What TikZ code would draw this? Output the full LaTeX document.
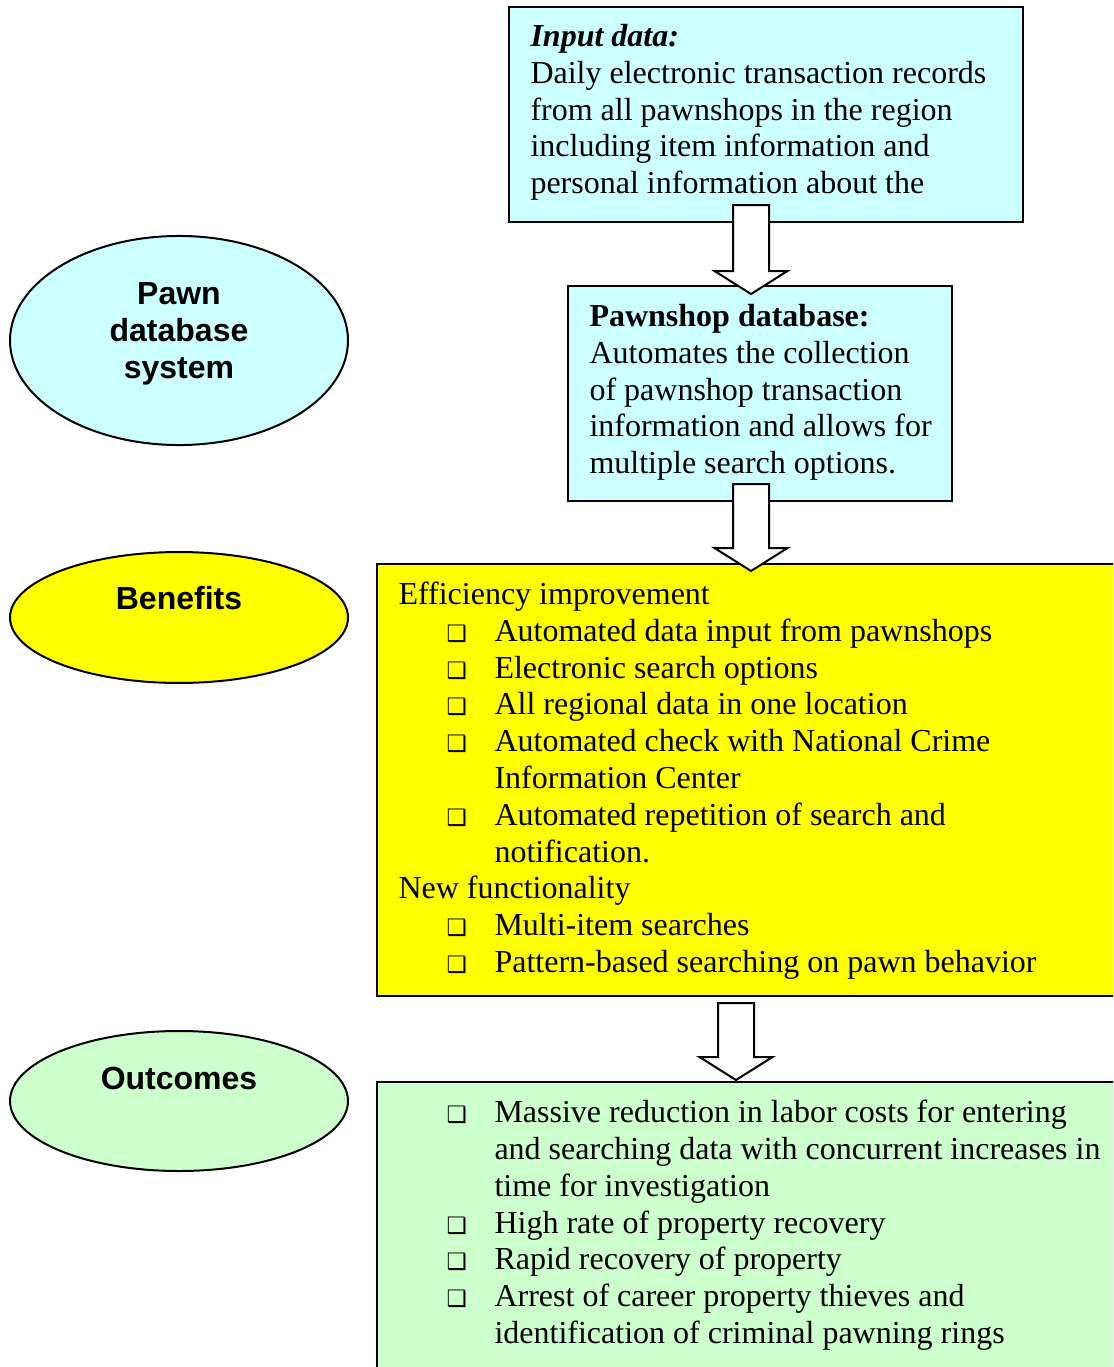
\documentclass[tikz,border=0pt]{standalone}
\usepackage{fontspec}
\setmainfont{Liberation Serif}
\newfontfamily\arialfont{Liberation Sans}
\newfontfamily\bulfont{DejaVu Sans}
\usetikzlibrary{shapes.geometric,fit}
\definecolor{pcyan}{RGB}{204,255,255}
\definecolor{pyellow}{RGB}{255,255,0}
\definecolor{pgreen}{RGB}{204,255,204}
\newcommand\firstln{\rule{0pt}{10pt}}
\newcommand\sqbul{\hspace*{18pt}\makebox[18pt][l]{\bulfont\fontsize{8.5}{9}\selectfont ❑}}
\newcommand\contln{\hspace*{36pt}}

\begin{document}
\begin{tikzpicture}[x=0.375pt, y=-0.375pt,
  box/.style={draw, line width=0.75pt, inner sep=0pt},
  oval/.style={ellipse, draw, line width=0.75pt, inner sep=0pt, minimum width=126.75pt},
  txt/.style={anchor=north west, inner sep=0pt, align=left, font=\fontsize{12}{13.8}\selectfont},
  lbl/.style={inner sep=0pt, align=center, font=\arialfont\bfseries\fontsize{12}{13.8}\selectfont},
  arrowbox/.style={draw, fill=white, line width=0.75pt},
  pics/blockarrow/.style={code={\draw[arrowbox] (-18,0) -- (18,0) -- (18,#1) -- (36.5,#1) -- (0,#1+23) -- (-36.5,#1) -- (-18,#1) -- cycle;}}]
\useasboundingbox (0,0) rectangle (1113,1367);
\clip (0,0) rectangle (1113,1367);

% Left column ovals
\node[oval, fill=pcyan, minimum height=78.4pt] (pawnsys) at (179,340.5) {};
\node[lbl, anchor=north] (pawnlbl) at (179,277.3) {\firstln Pawn\\database\\system};
\node[oval, fill=pyellow, minimum height=49.1pt] (benefits) at (179,617.5) {};
\node[lbl, anchor=base] (benlbl) at (179,609) {Benefits};
\node[oval, fill=pgreen, minimum height=52.5pt] (outcomes) at (179,1101) {};
\node[lbl, anchor=base] (outlbl) at (179,1089) {Outcomes};

% Boxes
\node[box, fill=pcyan, fit={(509,7) (1023,222)}] (input) {};
\node[box, fill=pcyan, fit={(568,286) (952,501)}] (pawndb) {};
\node[box, fill=pyellow, fit={(377,564) (1125,996)}] (benbox) {};
\node[box, fill=pgreen, fit={(377,1082) (1125,1380)}] (outbox) {};

\node[txt] (intext) at (530,19.3) {\firstln\textbf{\textit{Input data:}}\\
  Daily electronic transaction records\\
  from all pawnshops in the region\\
  including item information and\\
  personal information about the};
\node[txt] (dbtext) at (589,299.3) {\firstln\textbf{Pawnshop database:}\\
  Automates the collection\\
  of pawnshop transaction\\
  information and allows for\\
  multiple search options.};
\node[txt] (bentext) at (398,577.3) {\firstln Efficiency improvement\\
  \sqbul Automated data input from pawnshops\\
  \sqbul Electronic search options\\
  \sqbul All regional data in one location\\
  \sqbul Automated check with National Crime\\
  \contln Information Center\\
  \sqbul Automated repetition of search and\\
  \contln notification.\\
  New functionality\\
  \sqbul Multi-item searches\\
  \sqbul Pattern-based searching on pawn behavior};
\node[txt] (outtext) at (398,1095.5) {\firstln\sqbul Massive reduction in labor costs for entering\\
  \contln and searching data with concurrent increases in\\
  \contln time for investigation\\
  \sqbul High rate of property recovery\\
  \sqbul Rapid recovery of property\\
  \sqbul Arrest of career property thieves and\\
  \contln identification of criminal pawning rings};

% Block arrows between boxes
\pic at (751,205) {blockarrow=66};
\pic at (751,484) {blockarrow=64};
\pic at (736,1003) {blockarrow=54};
\end{tikzpicture}
\end{document}
